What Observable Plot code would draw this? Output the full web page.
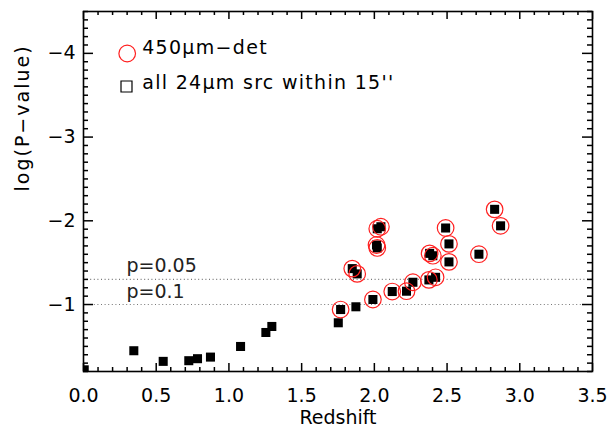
<!DOCTYPE html>
<html><head><meta charset="utf-8">
<script src="https://cdn.jsdelivr.net/npm/d3@7"></script>
<script src="https://cdn.jsdelivr.net/npm/@observablehq/plot@0.6"></script>
<style>
html,body{margin:0;padding:0;background:#fff;}
</style>
</head><body><div id="chart"></div>
<script>
// Redshift of each 24µm source
const redshift = [0.005, 0.346, 0.548, 0.724, 0.784, 0.873, 1.080, 1.254, 1.295,
  1.752, 1.768, 1.873, 1.848, 1.882, 1.990, 2.015, 2.020, 2.020, 2.045,
  2.123, 2.221, 2.265, 2.375, 2.421, 2.380, 2.402, 2.490, 2.513, 2.513,
  2.719, 2.827, 2.868];
// log(P-value)
const logP = [-0.22, -0.448, -0.321, -0.329, -0.353, -0.372, -0.499, -0.666, -0.738,
  -0.782, -0.940, -0.973, -1.429, -1.366, -1.060, -1.711, -1.676, -1.905, -1.929,
  -1.155, -1.159, -1.266, -1.294, -1.325, -1.611, -1.583, -1.914, -1.724, -1.509,
  -1.601, -2.137, -1.940];
// 450µm detected (1) or not (0)
const det450 = [0, 0, 0, 0, 0, 0, 0, 0, 0,
  0, 1, 0, 1, 1, 1, 1, 1, 1, 1,
  1, 1, 1, 1, 1, 1, 1, 1, 1, 1,
  1, 1, 1];

const xTicks = [0, 0.5, 1, 1.5, 2, 2.5, 3, 3.5];
const yTicks = [-1, -2, -3, -4];
const pLevels = [0.05, 0.1];
const pLabels = ["p=0.05", "p=0.1"];
const legendLabels = ["450\u03bcm\u2212det", "all 24\u03bcm src within 15''"];
const xLabel = "Redshift";
const yLabel = "log(P\u2212value)";

const pts = redshift.map((z, i) => ({z, lp: logP[i], det: det450[i]}));
const refs = pLevels.map((p, i) => ({lp: Math.log10(p), label: pLabels[i]}));
const xMinor = d3.range(0, 36).map(i => i / 10).filter(v => Math.abs(v * 2 - Math.round(v * 2)) > 1e-6);
const yMinor = d3.range(2, 46).map(i => -i / 10).filter(v => Math.abs(v - Math.round(v)) > 1e-6);

const W = 608, H = 428, mL = 83, mR = 16, mT = 11, mB = 57;
const pw = W - mL - mR, ph = H - mT - mB;
const fmtY = d => "\u2212" + Math.abs(d);
const spaced = (px) => function(index, scales, values, dims, ctx, next) {
  const g = next(index, scales, values, dims, ctx);
  g.setAttribute("letter-spacing", px);
  return g;
};
const TC = "black";
const tickBottom = (vals, len) => Plot.ruleX(vals, {x: d => d, insetTop: ph - len, stroke: TC, strokeWidth: 1.5});
const tickTop = (vals, len) => Plot.ruleX(vals, {x: d => d, insetBottom: ph - len, stroke: TC, strokeWidth: 1.5});
const tickLeft = (vals, len) => Plot.ruleY(vals, {y: d => d, insetRight: pw - len, stroke: TC, strokeWidth: 1.5});
const tickRight = (vals, len) => Plot.ruleY(vals, {y: d => d, insetLeft: pw - len, stroke: TC, strokeWidth: 1.5});

const chart = Plot.plot({
  width: W, height: H,
  marginLeft: mL, marginRight: mR, marginTop: mT, marginBottom: mB,
  style: {fontFamily: "'DejaVu Sans', sans-serif", fontSize: "19px", background: "white", color: "black", overflow: "visible"},
  x: {domain: [0, 3.5]},
  y: {domain: [-0.2, -4.5]},
  marks: [
    Plot.ruleY(refs, {y: "lp", stroke: "#777", strokeWidth: 1.2, strokeDasharray: "1,2.6"}),
    Plot.text(refs, {y: "lp", text: "label", frameAnchor: "left", dx: 43, textAnchor: "start", lineAnchor: "bottom", dy: -7, fill: "#222"}),
    Plot.dot(pts, {x: "z", y: "lp", symbol: "square", r: 5.1, fill: "black", clip: true}),
    Plot.dot(pts.filter(d => d.det), {x: "z", y: "lp", r: 8.3, stroke: "#ff2020", strokeWidth: 1.2, fill: "none"}),
    Plot.frame({stroke: "black", strokeWidth: 1.6}),
    Plot.axisX({ticks: xTicks, anchor: "bottom", tickSize: 0, tickPadding: 17, tickFormat: d3.format(".1f"), label: null, fontSize: 19}),
    Plot.axisY({ticks: yTicks, anchor: "left", tickSize: 0, tickPadding: 8, tickFormat: fmtY, label: null, fontSize: 19}),
    tickBottom(xTicks, 8), tickBottom(xMinor, 4),
    tickTop(xTicks, 8), tickTop(xMinor, 4),
    tickLeft(yTicks, 10), tickLeft(yMinor, 5),
    tickRight(yTicks, 10), tickRight(yMinor, 5),
    Plot.text([xLabel], {text: d => d, frameAnchor: "bottom", dy: 46, lineAnchor: "middle", fontSize: 19}),
    Plot.text([yLabel], {text: d => d, frameAnchor: "left", dx: -61, rotate: -90, lineAnchor: "middle", fontSize: 19, render: spaced("2px")}),
    Plot.dot([legendLabels[0]], {frameAnchor: "top-left", dx: 43.7, dy: 42, r: 8.3, stroke: "#ff2020", strokeWidth: 1.2, fill: "none"}),
    Plot.dot([legendLabels[1]], {frameAnchor: "top-left", dx: 43, dy: 75, symbol: "square", r: 6.2, stroke: "black", strokeWidth: 1.2, fill: "none"}),
    Plot.text([legendLabels[0]], {text: d => d, frameAnchor: "top-left", dx: 58.7, dy: 36, textAnchor: "start", lineAnchor: "middle", fontSize: 19, render: spaced("1.3px")}),
    Plot.text([legendLabels[1]], {text: d => d, frameAnchor: "top-left", dx: 58.7, dy: 71, textAnchor: "start", lineAnchor: "middle", fontSize: 19, render: spaced("1.3px")})
  ]
});
document.getElementById("chart").appendChild(chart);
</script>
</body></html>
